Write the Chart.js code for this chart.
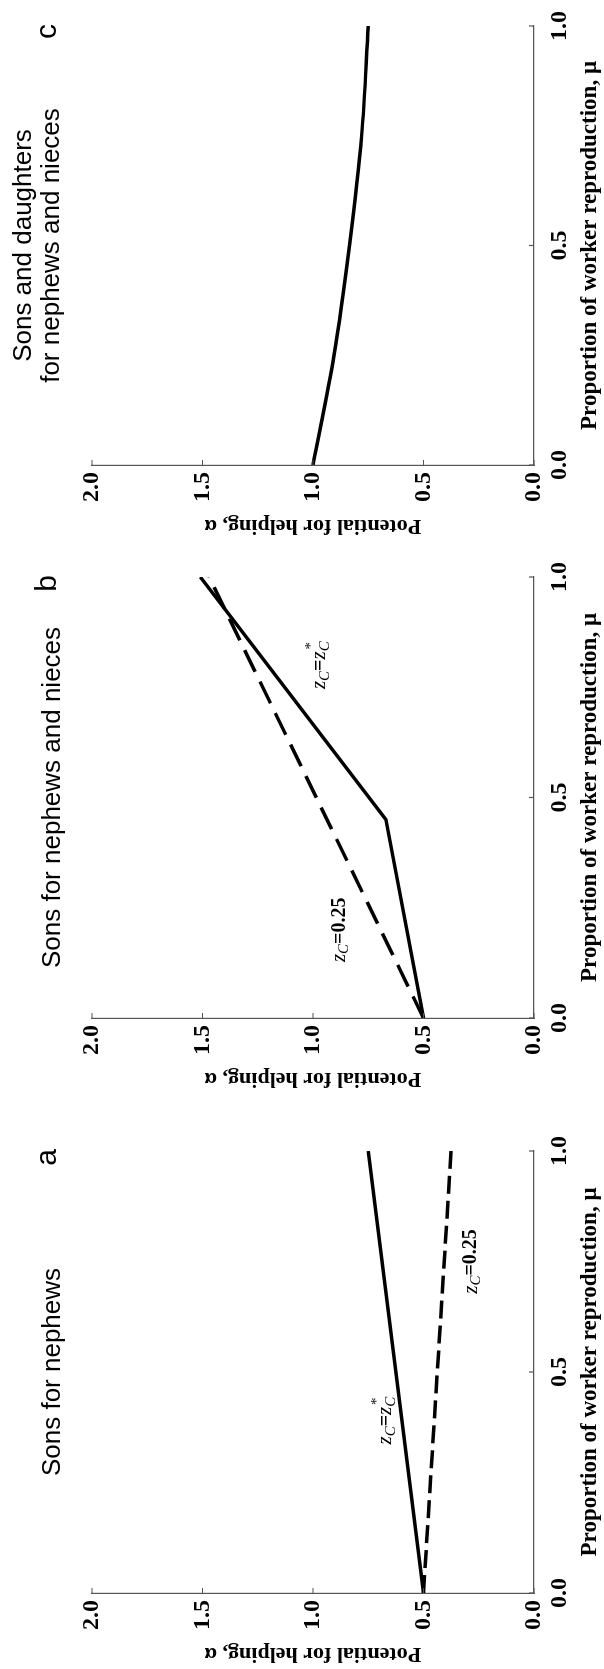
<!DOCTYPE html>
<html>
<head>
<meta charset="utf-8">
<script src="https://cdn.jsdelivr.net/npm/chart.js@4.4.0/dist/chart.umd.min.js"></script>
<style>
  html, body { margin: 0; padding: 0; background: #fff; overflow: hidden; width: 604px; height: 1669px; }
  /* the figure is laid out landscape and turned a quarter turn counter-clockwise */
  #fig { position: absolute; left: 0; top: 0; width: 1669px; height: 604px;
         transform-origin: 0 0; transform: translateY(1669px) rotate(-90deg); }
  #fig canvas { position: absolute; left: 0; top: 0; }
</style>
</head>
<body>
<div id="fig">
  <canvas id="panelA" width="1669" height="604"></canvas>
  <canvas id="panelB" width="1669" height="604"></canvas>
  <canvas id="panelC" width="1669" height="604"></canvas>
</div>
<script>
// tick labels
const muTicks = ['0.0', '0.5', '1.0'];
const alphaTicks = ['0.0', '0.5', '1.0', '1.5', '2.0'];

// a: sons for nephews
const muA = [0, 1];
const alphaAStar = [0.5, 0.75];
const alphaA025 = [0.5, 0.375];

// b: sons for nephews and nieces
const muBStar = [0, 0.45, 1];
const alphaBStar = [0.5, 0.67, 1.51];
const muB025 = [0, 1];
const alphaB025 = [0.5, 1.47];

// c: sons and daughters for nephews and nieces
const muC = [0, 0.25, 0.5, 0.75, 1];
const alphaC = [1.0, 0.905, 0.835, 0.78, 0.75];

const axisColor = '#555';
const W = 1669;
const yAxisW = 76, xAxisH = 70, plotTop = 92;
const tickFont = { family: '"Liberation Serif", "Times New Roman", serif', size: 24, weight: 'bold' };

function pts(xs, ys) {
  return xs.map((x, i) => ({ x: x, y: ys[i] }));
}

function drawNote(ctx, x, y, star) {
  const big = 'italic 21px "Liberation Serif", serif';
  const small = 'italic 15px "Liberation Serif", serif';
  const up = 'bold 20px "Liberation Serif", serif';
  const parts = star
    ? [['z', big, 0], ['C', small, 5], ['=', up, 0], ['z', big, 0], ['C', small, 5]]
    : [['z', big, 0], ['C', small, 5], ['=0.25', up, 0]];
  let total = 0;
  parts.forEach(p => { ctx.font = p[1]; p.push(ctx.measureText(p[0]).width); total += p[3]; });
  let cx = x - total / 2;
  ctx.textAlign = 'left';
  ctx.textBaseline = 'middle';
  parts.forEach(p => { ctx.font = p[1]; ctx.fillText(p[0], cx, y + p[2]); cx += p[3]; });
  if (star) {
    ctx.font = small;
    ctx.fillText('*', cx - parts[4][3] + 1, y - 9);
  }
}

const decor = {
  id: 'decor',
  afterDraw(chart) {
    const o = chart.options.plugins.decor;
    const ctx = chart.ctx, xs = chart.scales.x, ys = chart.scales.y;
    ctx.save();
    // short inward ticks
    ctx.strokeStyle = axisColor;
    ctx.lineWidth = 1.2;
    ctx.beginPath();
    xs.ticks.forEach(t => {
      const p = xs.getPixelForValue(t.value);
      ctx.moveTo(p, ys.bottom); ctx.lineTo(p, ys.bottom - 5);
    });
    ys.ticks.forEach(t => {
      const p = ys.getPixelForValue(t.value);
      ctx.moveTo(xs.left, p); ctx.lineTo(xs.left + 5, p);
    });
    ctx.stroke();

    ctx.fillStyle = '#000';
    ctx.textBaseline = 'alphabetic';
    ctx.font = '26px "Liberation Sans", Arial, sans-serif';
    ctx.textAlign = 'center';
    const cx = (xs.left + xs.right) / 2;
    o.title.forEach((line, i) => ctx.fillText(line, cx, o.titleBase[i]));

    ctx.font = '30px "Liberation Sans", Arial, sans-serif';
    ctx.textAlign = 'right';
    ctx.fillText(o.letter, xs.right + 2, 56);

    o.notes.forEach(n => drawNote(ctx, xs.getPixelForValue(n.mu), ys.getPixelForValue(n.alpha), n.star));
    ctx.restore();
  }
};

function makePanel(id, left, right, sets, deco) {
  return new Chart(document.getElementById(id), {
    type: 'line',
    data: { datasets: sets },
    options: {
      responsive: false,
      animation: false,
      devicePixelRatio: 1,
      layout: { padding: { left: left - yAxisW, right: W - right, top: plotTop, bottom: 0 } },
      plugins: { legend: { display: false }, tooltip: { enabled: false }, decor: deco },
      elements: { point: { radius: 0 }, line: { borderColor: '#000', borderWidth: 3.5, fill: false, tension: 0 } },
      scales: {
        x: {
          type: 'linear', min: 0, max: 1,
          afterFit: s => { s.height = xAxisH; },
          grid: { display: false, drawTicks: false },
          border: { display: true, color: axisColor, width: 1.2 },
          ticks: { stepSize: 0.5, padding: 11, color: '#000', font: tickFont, maxRotation: 0, autoSkip: false,
                   callback: v => muTicks[Math.round(v * 2)] },
          title: { display: true, text: 'Proportion of worker reproduction, μ', color: '#000',
                   font: { family: tickFont.family, size: 23, weight: 'bold' }, padding: { top: 0, bottom: 0 } }
        },
        y: {
          type: 'linear', min: 0, max: 2,
          afterFit: s => { s.width = yAxisW; },
          grid: { display: false, drawTicks: false },
          border: { display: true, color: axisColor, width: 1.2 },
          ticks: { stepSize: 0.5, padding: 7, color: '#000', font: tickFont, autoSkip: false,
                   callback: v => alphaTicks[Math.round(v * 2)] },
          title: { display: true, text: 'Potential for helping, α', color: '#000',
                   font: { family: tickFont.family, size: 22, weight: 'bold' }, padding: { top: 2, bottom: 0 } }
        }
      }
    },
    plugins: [decor]
  });
}

makePanel('panelA', 76, 518, [
  { data: pts(muA, alphaA025), borderDash: [18, 7] },
  { data: pts(muA, alphaAStar) }
], {
  title: ['Sons for nephews'], titleBase: [60], letter: 'a',
  notes: [{ mu: 0.39, alpha: 0.67, star: true }, { mu: 0.75, alpha: 0.285, star: false }]
});

makePanel('panelB', 651, 1092, [
  { data: pts(muB025, alphaB025), borderDash: [24, 11] },
  { data: pts(muBStar, alphaBStar) }
], {
  title: ['Sons for nephews and nieces'], titleBase: [60], letter: 'b',
  notes: [{ mu: 0.80, alpha: 0.97, star: true }, { mu: 0.20, alpha: 0.88, star: false }]
});

makePanel('panelC', 1204, 1646, [
  { data: pts(muC, alphaC), cubicInterpolationMode: 'monotone' }
], {
  title: ['Sons and daughters', 'for nephews and nieces'], titleBase: [31, 59], letter: 'c',
  notes: []
});
</script>
</body>
</html>
